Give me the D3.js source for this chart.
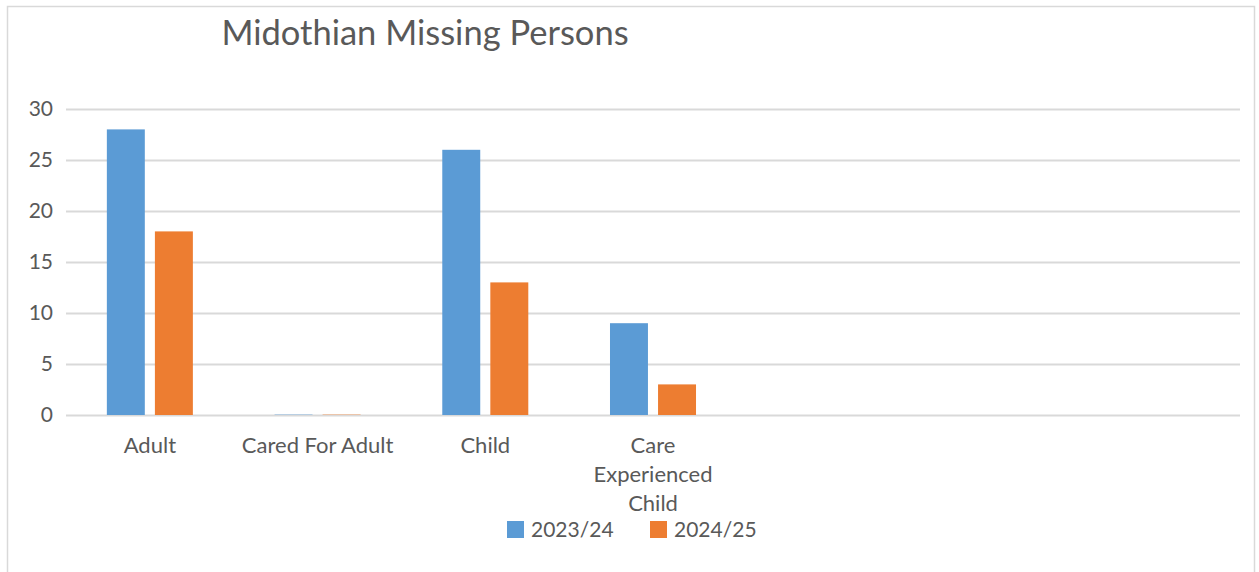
<!DOCTYPE html>
<html>
<head>
<meta charset="utf-8">
<script src="https://cdn.jsdelivr.net/npm/d3@7"></script>
<style>
  body { margin: 0; background: #fff; }
  svg { display: block; font-family: Lato, "Open Sans", sans-serif; }
</style>
</head>
<body>
<div id="chart"></div>
<script>
// chart data
var categories = ['Adult', 'Cared For Adult', 'Child', 'Care Experienced Child', '', ' ', '  '];
var series = ['2023/24', '2024/25'];
var values2023 = [28, 0, 26, 9, null, null, null];
var values2024 = [18, 0, 13, 3, null, null, null];
var yTicks = [0, 5, 10, 15, 20, 25, 30];
var colors = ['#5b9bd5', '#ed7d31'];

var w = 1259, h = 572;
var margin = {left: 66, right: 19, top: 109, bottom: 157};

var svg = d3.select('#chart').append('svg')
  .attr('width', w)
  .attr('height', h);

// outer chart border
svg.append('rect')
  .attr('x', 7.5).attr('y', 6.5)
  .attr('width', 1247).attr('height', 600)
  .attr('fill', 'none')
  .attr('stroke', '#d9d9d9')
  .attr('stroke-width', 1.5);

svg.append('text')
  .attr('x', 425)
  .attr('y', 45)
  .attr('text-anchor', 'middle')
  .attr('font-size', 34.5)
  .attr('fill', '#595959')
  .text('Midothian Missing Persons');

var xscale = d3.scaleBand()
  .domain(categories)
  .range([margin.left, w - margin.right]);

var xinner = d3.scaleBand()
  .domain(series)
  .range([0, xscale.bandwidth()])
  .paddingInner(0.21)
  .paddingOuter(0.85);

var yscale = d3.scaleLinear()
  .domain([0, 30])
  .range([h - margin.bottom, margin.top]);

// gridlines + y labels
var yaxis = d3.axisLeft(yscale)
  .tickValues(yTicks)
  .tickSize(-(w - margin.left - margin.right))
  .tickPadding(13);

var gy = svg.append('g')
  .attr('transform', 'translate(' + margin.left + ',0)')
  .call(yaxis);
gy.select('.domain').remove();
gy.selectAll('.tick line').attr('stroke', '#d9d9d9').attr('stroke-width', 2);
gy.selectAll('.tick text')
  .attr('fill', '#595959')
  .attr('font-size', 21)
  .attr('font-family', 'Lato, sans-serif');

// bars
var datasets = [values2023, values2024];
datasets.forEach(function(vals, gnum) {
  svg.append('g')
    .attr('fill', colors[gnum])
    .selectAll('rect')
    .data(vals.map(function(v, i) { return {cat: categories[i], v: v}; })
      .filter(function(d) { return d.v !== null; }))
    .enter().append('rect')
    .attr('x', function(d) { return xscale(d.cat) + xinner(series[gnum]); })
    .attr('width', xinner.bandwidth())
    .attr('y', function(d) { return yscale(d.v) - (d.v === 0 ? 1 : 0); })
    .attr('height', function(d) { return Math.max(1, yscale(0) - yscale(d.v)); })
    .attr('fill-opacity', function(d) { return d.v === 0 ? 0.35 : 1; });
});

// x labels (wrapping like the original)
var xlabelLines = {
  'Adult': ['Adult'],
  'Cared For Adult': ['Cared For Adult'],
  'Child': ['Child'],
  'Care Experienced Child': ['Care', 'Experienced', 'Child']
};
var xaxis = d3.axisBottom(xscale).tickSize(0).tickFormat('');
var gx = svg.append('g')
  .attr('transform', 'translate(0,' + yscale(0) + ')')
  .call(xaxis);
gx.select('.domain').remove();
gx.selectAll('.tick').each(function(d) {
  var lines = xlabelLines[d] || [];
  var t = d3.select(this).append('text')
    .attr('text-anchor', 'middle')
    .attr('fill', '#595959')
    .attr('font-size', 22)
    .attr('font-family', 'Lato, sans-serif');
  lines.forEach(function(line, i) {
    t.append('tspan').attr('x', 0).attr('y', 38 + i * 29).text(line);
  });
});

// legend
var legend = svg.append('g').attr('transform', 'translate(507,521)');
var legendX = [0, 143];
series.forEach(function(s, i) {
  var g = legend.append('g').attr('transform', 'translate(' + legendX[i] + ',0)');
  g.append('rect').attr('width', 17).attr('height', 17).attr('fill', colors[i]);
  g.append('text')
    .attr('x', 24).attr('y', 16)
    .attr('font-size', 21)
    .attr('fill', '#595959')
    .text(s);
});
</script>
</body>
</html>
